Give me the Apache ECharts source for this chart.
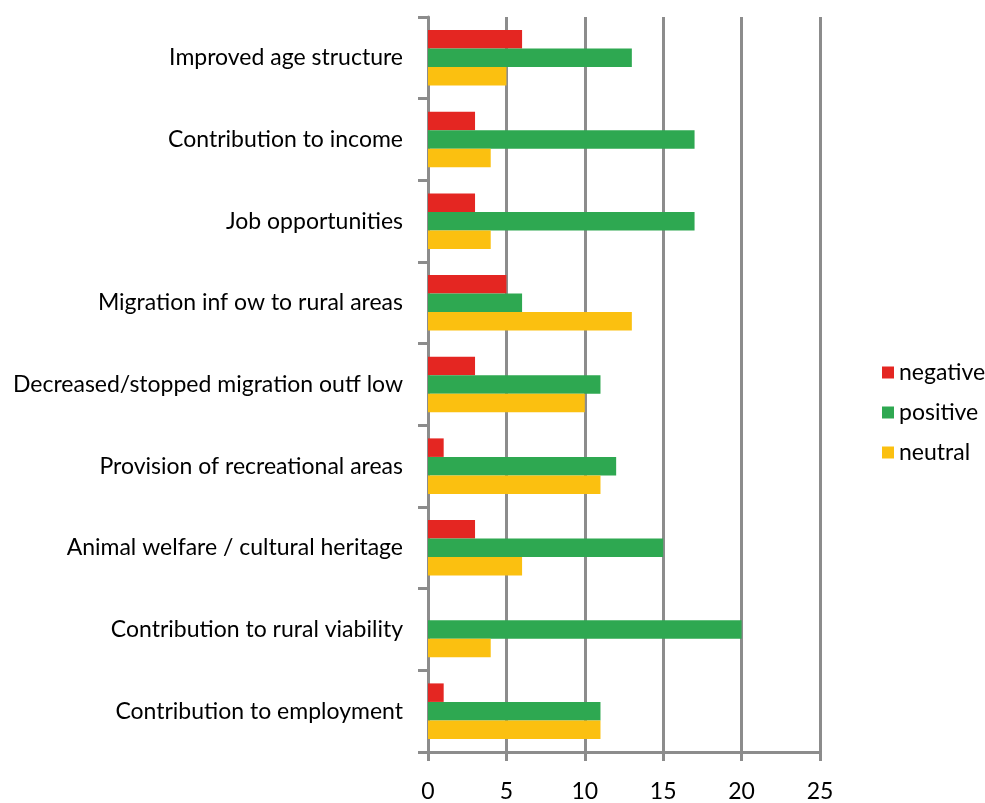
<!DOCTYPE html>
<html>
<head>
<meta charset="utf-8">
<style>
  html, body { margin: 0; padding: 0; background: #fff; }
  #chart { width: 985px; height: 803px; }
</style>
<script src="https://cdn.jsdelivr.net/npm/echarts@6/dist/echarts.min.js"></script>
</head>
<body>
<div id="chart"></div>
<script>
// categories top to bottom, as printed in the picture
const categories = [
  'Improved age structure',
  'Contribution to income',
  'Job opportunities',
  'Migration inf ow to rural areas',
  'Decreased/stopped migration out\u0066 low',
  'Provision of recreational areas',
  'Animal welfare / cultural heritage',
  'Contribution to rural viability',
  'Contribution to employment'
];
const negative = [6, 3, 3, 5, 3, 1, 3, 0, 1];
const positive = [13, 17, 17, 6, 11, 12, 15, 20, 11];
const neutral  = [5, 4, 4, 13, 10, 11, 6, 4, 11];
const xTicks = [0, 5, 10, 15, 20, 25];

const fontFam = 'Lato, "Open Sans", sans-serif';
const gray = '#8c8c8c';

const chart = echarts.init(document.getElementById('chart'));
chart.setOption({
  animation: false,
  textStyle: { fontFamily: fontFam },
  legend: {
    orient: 'vertical',
    left: 877,
    top: 356,
    itemWidth: 12,
    itemHeight: 12,
    itemGap: 17,
    icon: 'rect',
    textStyle: { fontSize: 23, color: '#000', fontFamily: fontFam },
    data: ['negative', 'positive', 'neutral']
  },
  grid: { left: 428, right: 165, top: 17, bottom: 51, containLabel: false },
  xAxis: {
    type: 'value',
    min: xTicks[0],
    max: xTicks[xTicks.length - 1],
    interval: 5,
    axisLine: { show: true, lineStyle: { color: gray, width: 3 } },
    axisTick: { show: true, length: 9, lineStyle: { color: gray, width: 3 } },
    axisLabel: { fontSize: 23, color: '#000', margin: 28, fontFamily: fontFam },
    splitLine: { show: true, lineStyle: { color: gray, width: 3 } }
  },
  yAxis: {
    type: 'category',
    inverse: true,
    data: categories,
    axisLine: { show: true, lineStyle: { color: gray, width: 3 } },
    axisTick: { show: true, length: 10, lineStyle: { color: gray, width: 3 } },
    axisLabel: { fontSize: 23, color: '#000', margin: 25, fontFamily: fontFam }
  },
  series: [
    { name: 'negative', type: 'bar', data: negative, itemStyle: { color: '#e42622' },
      barGap: 0, barCategoryGap: '32%' },
    { name: 'positive', type: 'bar', data: positive, itemStyle: { color: '#2ea851' } },
    { name: 'neutral', type: 'bar', data: neutral, itemStyle: { color: '#fbc010' } }
  ]
});
</script>
</body>
</html>
